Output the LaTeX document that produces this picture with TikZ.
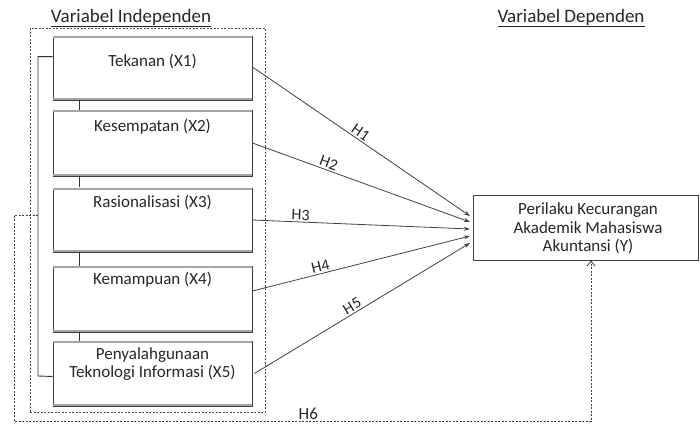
\documentclass[tikz,border=0pt]{standalone}
\usepackage{fontspec}
\setmainfont{Carlito}
\usetikzlibrary{arrows.meta,calc}
\begin{document}
\begin{tikzpicture}[x=1pt,y=-1pt,
  ivbox/.style={draw=black!75,line width=0.9pt,rectangle,inner sep=0pt},
  lbl/.style={font=\fontsize{17}{18.5}\selectfont,text=black!85,inner sep=1pt},
  ttl/.style={font=\fontsize{19}{21}\selectfont,text=black!85},
  hyp/.style={draw=black!75,line width=0.8pt,-{Stealth[length=6pt,width=4pt]}},
  hlbl/.style={font=\fontsize{16}{18}\selectfont,text=black!85,sloped,above,inner sep=1.5pt},
  grp/.style={draw=black!70,line width=0.7pt,dash pattern=on 2pt off 1.5pt},
  link/.style={draw=black!80,line width=0.9pt}]
\useasboundingbox (0,0) rectangle (700,423);
% titles
\node[ttl] (t1) at (131,18) {\underline{Variabel Independen}};
\node[ttl] (t2) at (571,18) {\underline{Variabel Dependen}};
% group
\node[grp,rectangle,minimum width=235pt,minimum height=384pt,inner sep=0pt] (grp) at (147.5,220) {};
% boxes
\node[ivbox,minimum width=199pt,minimum height=64pt] (b1) at (152.5,68) {};
\node[ivbox,minimum width=199pt,minimum height=66pt] (b2) at (152.5,143) {};
\node[ivbox,minimum width=199pt,minimum height=64pt] (b3) at (152.5,220) {};
\node[ivbox,minimum width=199pt,minimum height=66pt] (b4) at (152.5,299) {};
\node[ivbox,minimum width=199pt,minimum height=65pt] (b5) at (152.5,373.5) {};
\foreach \b in {b1,b2,b3,b4,b5}{
  \draw[black!35,line width=1.6pt] ($(\b.north west)+(0,1.3)$) -- ($(\b.north east)+(0,1.3)$);
  \draw[black!35,line width=1.6pt] ($(\b.south west)+(0,-1.3)$) -- ($(\b.south east)+(0,-1.3)$);
}
\node[lbl] (l1) at (152.5,61) {Tekanan (X1)};
\node[lbl] (l2) at (152.5,127) {Kesempatan (X2)};
\node[lbl] (l3) at (152.5,202) {Rasionalisasi (X3)};
\node[lbl] (l4) at (152.5,280) {Kemampuan (X4)};
\node[lbl,align=center] (l5) at (152.5,364) {Penyalahgunaan\\Teknologi Informasi (X5)};
% links between boxes
\draw[link] (79,100) -- (79,110);
\draw[link] (79,176) -- (79,187);
\draw[link] (79,252) -- (79,266);
\draw[link] (79,332) -- (79,341);
% left bracket
\draw[link] ($(b1.north west)+(0,21)$) -| (38,376) -- ($(b5.south west)+(0,-30)$);
% dependent box
\node[draw=black!75,line width=0.9pt,rectangle,minimum width=225pt,minimum height=65pt,inner sep=0pt] (y) at (585.5,227.5) {};
\node[lbl,align=center] (ly) at (588,228.5) {Perilaku Kecurangan\\Akademik Mahasiswa\\Akuntansi (Y)};
% hypotheses
\coordinate (e1) at (470,216);
\coordinate (e2) at (470,222);
\coordinate (e3) at (470,229);
\coordinate (e4) at (470,236);
\coordinate (e5) at (470,243);
\draw[hyp] ($(b1.east)+(0,-1)$) -- node[hlbl,pos=0.48] {H1} (e1);
\draw[hyp] (b2.east) -- node[hlbl,pos=0.34] {H2} (e2);
\draw[hyp] (b3.east) -- node[hlbl,pos=0.22] {H3} (e3);
\draw[hyp] ($(b4.east)+(0,-8)$) -- node[hlbl,pos=0.32] {H4} (e4);
\draw[hyp] ($(b5.east)+(2,0)$) -- node[hlbl,pos=0.47] {H5} (e5);
% H6
\coordinate (h6s) at (38,215);
\draw[black!75,line width=0.8pt,dash pattern=on 2pt off 1.5pt,-{Straight Barb[length=5pt,width=8pt]}]
  (h6s) -- (14,215) -- (14,421) -- node[lbl,above,pos=0.51,inner sep=1pt] {H6} (591,421) -- (y.south -| 591,0);
\end{tikzpicture}
\end{document}
